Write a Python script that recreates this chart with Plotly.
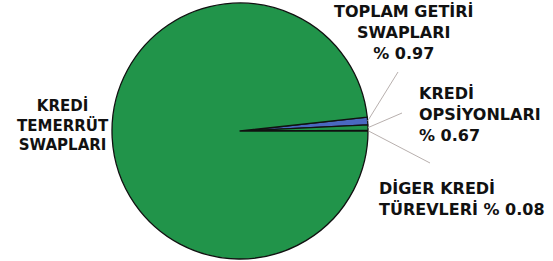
import math
import plotly.graph_objects as go

labels = ["TOPLAM GETİRİ SWAPLARI", "KREDİ OPSİYONLARI", "DİGER KREDİ TÜREVLERİ", "KREDİ TEMERRÜT SWAPLARI"]
values = [0.97, 0.67, 0.08, 98.28]
label_texts = [
    "TOPLAM GETİRİ<br>SWAPLARI<br>% 0.97",
    "KREDİ<br>OPSİYONLARI<br>% 0.67",
    "DİGER KREDİ<br>TÜREVLERİ % 0.08",
    "KREDİ<br>TEMERRÜT<br>SWAPLARI",
]
colors = ["#4a68c0", "#21944a", "#21944a", "#21944a"]

W, H = 553, 261
CX, CY, R = 240, 131, 128  # pie centre / radius in pixels

small_total = sum(values[:3])
start_deg = small_total / 100 * 360  # start angle (math, ccw from 3 o'clock)

fig = go.Figure(go.Pie(
    labels=labels, values=values, sort=False, direction="clockwise",
    rotation=90 - start_deg,
    marker=dict(colors=colors, line=dict(color="#111111", width=1.3)),
    textinfo="none", hoverinfo="label+percent", showlegend=False,
    domain=dict(x=[(CX - R) / W, (CX + R) / W], y=[(H - CY - R) / H, (H - CY + R) / H]),
))

def px2paper(px, py):
    return px / W, 1 - py / H

# label anchors (layout) : (x, y, xanchor, align, size)
label_pos = [
    (404, 33, "center", "center", 16),
    (417, 114, "left", "left", 16),
    (377, 199, "left", "left", 16),
    (63, 125, "center", "center", 15),
]
leader_end = [(398, 72), (402, 113), (430, 163)]

annotations = []
shapes = []
total = sum(values)
cum = 0
for i, v in enumerate(values):
    a0 = start_deg - cum / total * 360
    cum += v
    a1 = start_deg - cum / total * 360
    mid = math.radians((a0 + a1) / 2)
    x, y, xa, al, fs = label_pos[i]
    lx, ly = px2paper(x, y)
    annotations.append(dict(
        x=lx, y=ly, xref="paper", yref="paper", xanchor=xa, yanchor="middle",
        align=al, showarrow=False, text=label_texts[i],
        font=dict(family="DejaVu Sans", size=fs, color="#111111", weight="bold"),
    ))
    if i < 3:
        tx, ty = CX + R * math.cos(mid), CY - R * math.sin(mid)
        ex, ey = leader_end[i]
        p0 = px2paper(tx, ty)
        p1 = px2paper(ex, ey)
        shapes.append(dict(type="line", xref="paper", yref="paper",
                           x0=p0[0], y0=p0[1], x1=p1[0], y1=p1[1],
                           line=dict(color="#b8b0ae", width=1)))

fig.update_layout(
    width=W, height=H, margin=dict(l=0, r=0, t=0, b=0),
    paper_bgcolor="white", plot_bgcolor="white",
    annotations=annotations, shapes=shapes,
)
fig.write_html("out.html", config={"displayModeBar": False},
               post_script="document.body.style.margin='0';")
